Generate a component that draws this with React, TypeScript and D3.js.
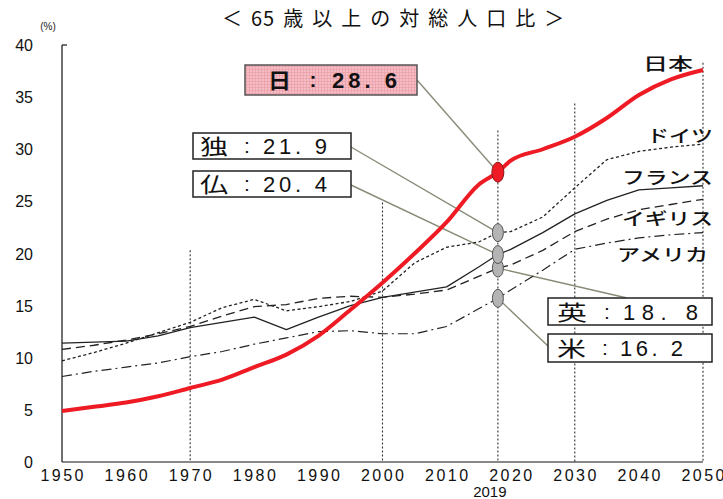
import React from 'react';
import * as d3 from 'd3';

// 65歳以上人口の割合 (%)
const years = [1950, 1955, 1960, 1965, 1970, 1975, 1980, 1985, 1990, 1995, 2000, 2005, 2010, 2015, 2018, 2020, 2025, 2030, 2035, 2040, 2045, 2050];
const japan = [4.9, 5.3, 5.7, 6.3, 7.1, 7.9, 9.1, 10.3, 12.1, 14.6, 17.2, 20.0, 23.0, 26.6, 27.8, 28.9, 30.0, 31.2, 33.0, 35.2, 36.7, 37.6];
const germany = [9.7, 10.5, 11.4, 12.4, 13.4, 14.8, 15.6, 14.5, 14.9, 15.4, 16.4, 19.1, 20.6, 21.1, 22.0, 22.1, 23.5, 26.3, 29.0, 29.8, 30.2, 30.5];
const france = [11.4, 11.5, 11.6, 12.1, 12.9, 13.4, 13.9, 12.7, 13.9, 15.0, 15.8, 16.3, 16.8, 18.7, 19.9, 20.4, 22.0, 23.8, 25.1, 26.1, 26.3, 26.5];
const uk = [10.8, 11.2, 11.7, 12.3, 13.0, 14.0, 14.9, 15.1, 15.7, 15.9, 15.8, 16.1, 16.5, 17.8, 18.6, 18.9, 20.3, 22.1, 23.3, 24.2, 24.7, 25.2];
const us = [8.2, 8.7, 9.1, 9.5, 10.1, 10.6, 11.3, 11.9, 12.5, 12.6, 12.3, 12.3, 13.0, 14.7, 15.7, 16.5, 18.4, 20.4, 21.0, 21.5, 21.8, 22.0];

const markerYear = 2018; // drawn line labelled "2019"
const xTicks = [1950, 1960, 1970, 1980, 1990, 2000, 2010, 2020, 2030, 2040, 2050];
const yTicks = [0, 5, 10, 15, 20, 25, 30, 35, 40];
const refYears = [1970, 2000, markerYear, 2030, 2050];
const refTops = [20.3, 24.9, 31.8, 34.4, 38.3];

const seriesNames = ['日本', 'ドイツ', 'フランス', 'イギリス', 'アメリカ'];
const calloutKeys = ['日', '独', '仏', '英', '米'];
const calloutValues = ['28. 6', '21. 9', '20. 4', '18. 8', '16. 2'];

const W = 723;
const H = 499;
const margin = { left: 62, right: 20, top: 45, bottom: 37 };

const x = d3.scaleLinear().domain([1950, 2050]).range([margin.left, W - margin.right]);
const y = d3.scaleLinear().domain([0, 40]).range([H - margin.bottom, margin.top]);

const jp = "'Noto Sans CJK JP', sans-serif";
const num = "'Liberation Sans', Arial, 'Noto Sans CJK JP', sans-serif";

const series = [
  { values: japan, color: '#ee1b24', width: 4, dash: null, smooth: true },
  { values: germany, color: '#222', width: 1.3, dash: '3,2.5', smooth: false },
  { values: france, color: '#222', width: 1.3, dash: null, smooth: false },
  { values: uk, color: '#222', width: 1.3, dash: '9,5', smooth: false },
  { values: us, color: '#222', width: 1.2, dash: '10,4,2,4', smooth: false },
];

// label placement (annotation layout)
const nameBoxes = [
  { x: 643, y: 63, w: 50 },
  { x: 647, y: 135, w: 66 },
  { x: 622, y: 177, w: 91 },
  { x: 622, y: 218, w: 91 },
  { x: 617, y: 254, w: 91 },
];

const callouts = [
  { bx: 245, by: 65, bw: 172, bh: 30, lx: 268, lw: 23, cx: 313, nx: 332, nw: 65, ax: 417, ay: 80, pink: true },
  { bx: 193, by: 133, bw: 158, bh: 26, lx: 200, lw: 28, cx: 247, nx: 263, nw: 64, ax: 351, ay: 147, pink: false },
  { bx: 193, by: 171, bw: 158, bh: 26, lx: 200, lw: 28, cx: 247, nx: 263, nw: 64, ax: 351, ay: 185, pink: false },
  { bx: 548, by: 298, bw: 164, bh: 27, lx: 557, lw: 30, cx: 607, nx: 623, nw: 75, ax: 627, ay: 298, pink: false },
  { bx: 548, by: 334, bw: 164, bh: 28, lx: 557, lw: 29, cx: 605, nx: 620, nw: 63, ax: 548, ay: 346, pink: false },
];

export default function App() {
  const mi = years.indexOf(markerYear);

  const makeLine = (vals: number[], smooth: boolean) =>
    d3
      .line<number>()
      .x((_, i) => x(years[i]))
      .y((d) => y(d))
      .curve(smooth ? d3.curveMonotoneX : d3.curveLinear)(vals) as string;

  return (
    <svg
      width={W}
      height={H}
      style={{ position: 'absolute', left: 0, top: 0, background: '#fff', display: 'block' }}
    >
      <defs>
        <pattern id="pinkGrid" width="3" height="3" patternUnits="userSpaceOnUse">
          <rect width="3" height="3" fill="#f5bcc3" />
          <path d="M0 0.5H3M0.5 0V3" stroke="#e79aa5" strokeWidth="0.6" />
        </pattern>
      </defs>

      {/* title */}
      <text x={222} y={26} fontFamily={jp} fontSize={20} fill="#111" letterSpacing={9}>
        ＜<tspan letterSpacing={1}>6</tspan>5歳以上の対総人口比＞
      </text>
      <text x={48} y={30} textAnchor="middle" fontFamily={num} fontSize={10} fill="#222">
        (%)
      </text>

      {/* vertical reference lines */}
      {refYears.map((yr, i) => (
        <line
          key={'ref' + i}
          x1={x(yr)}
          x2={x(yr)}
          y1={y(refTops[i])}
          y2={y(0)}
          stroke="#333"
          strokeWidth={1.1}
          strokeDasharray="2,2"
        />
      ))}

      {/* axes */}
      <line x1={x(1950)} x2={x(1950)} y1={y(40)} y2={y(0)} stroke="#111" strokeWidth={1.2} />
      <line x1={x(1950)} x2={x(1950) + 5} y1={y(40)} y2={y(40)} stroke="#111" strokeWidth={1.2} />
      <line x1={x(1950)} x2={x(2050)} y1={y(0)} y2={y(0)} stroke="#111" strokeWidth={1.2} />

      {yTicks.map((t) => (
        <text key={'y' + t} x={33} y={y(t) + 6} textAnchor="end" fontFamily={num} fontSize={16} fill="#111">
          {t}
        </text>
      ))}
      {xTicks.map((t) => (
        <text key={'x' + t} x={x(t)} y={481} textAnchor="middle" fontFamily={num} fontSize={16} textLength={43} lengthAdjust="spacing" fill="#111">
          {t}
        </text>
      ))}
      <text x={x(markerYear) - 8} y={497} textAnchor="middle" fontFamily={num} fontSize={15} fill="#111">
        2019
      </text>

      {/* leader lines */}
      {callouts.map((c, i) => (
        <line
          key={'ld' + i}
          x1={c.ax}
          y1={c.ay}
          x2={x(markerYear)}
          y2={y(series[i].values[mi])}
          stroke="#8a8a78"
          strokeWidth={1.4}
        />
      ))}

      {/* series lines, black first, japan on top */}
      {[1, 2, 3, 4, 0].map((si) => {
        const s = series[si];
        return (
          <path
            key={'s' + si}
            d={makeLine(s.values, s.smooth)}
            fill="none"
            stroke={s.color}
            strokeWidth={s.width}
            strokeDasharray={s.dash ?? undefined}
            strokeLinejoin="round"
          />
        );
      })}

      {/* markers at 2019 */}
      {[4, 3, 2, 1].map((si) => (
        <ellipse
          key={'e' + si}
          cx={x(markerYear)}
          cy={y(series[si].values[mi])}
          rx={5.5}
          ry={9}
          fill="#b4b4b4"
          stroke="#555"
          strokeWidth={1}
        />
      ))}
      <ellipse cx={x(markerYear)} cy={y(japan[mi])} rx={6} ry={10} fill="#ee1b24" stroke="#8a1a1a" strokeWidth={1} />

      {/* series names */}
      {seriesNames.map((n, i) => (
        <text
          key={'n' + i}
          x={nameBoxes[i].x}
          y={nameBoxes[i].y + 7}
          fontFamily={jp}
          fontSize={17}
          fontWeight={500}
          textLength={nameBoxes[i].w}
          lengthAdjust="spacingAndGlyphs"
          fill="#111"
        >
          {n}
        </text>
      ))}

      {/* callout boxes */}
      {callouts.map((c, i) => {
        const base = c.by + c.bh / 2 + 8;
        const weight = c.pink ? 700 : 400;
        return (
          <g key={'c' + i}>
            <rect
              x={c.bx}
              y={c.by}
              width={c.bw}
              height={c.bh}
              fill={c.pink ? 'url(#pinkGrid)' : '#fff'}
              stroke={c.pink ? '#555' : '#222'}
              strokeWidth={1.5}
            />
            <text x={c.lx} y={base} fontFamily={jp} fontSize={21} fontWeight={weight} textLength={c.lw} lengthAdjust="spacingAndGlyphs" fill="#111">
              {calloutKeys[i]}
            </text>
            <text x={c.cx} y={base - 1} textAnchor="middle" fontFamily={num} fontSize={21} fontWeight={weight} fill="#111">
              :
            </text>
            <text x={c.nx} y={base} fontFamily={num} fontSize={22} fontWeight={weight} textLength={c.nw} lengthAdjust="spacing" fill="#111" style={{ whiteSpace: 'pre' }}>
              {calloutValues[i]}
            </text>
          </g>
        );
      })}
    </svg>
  );
}
